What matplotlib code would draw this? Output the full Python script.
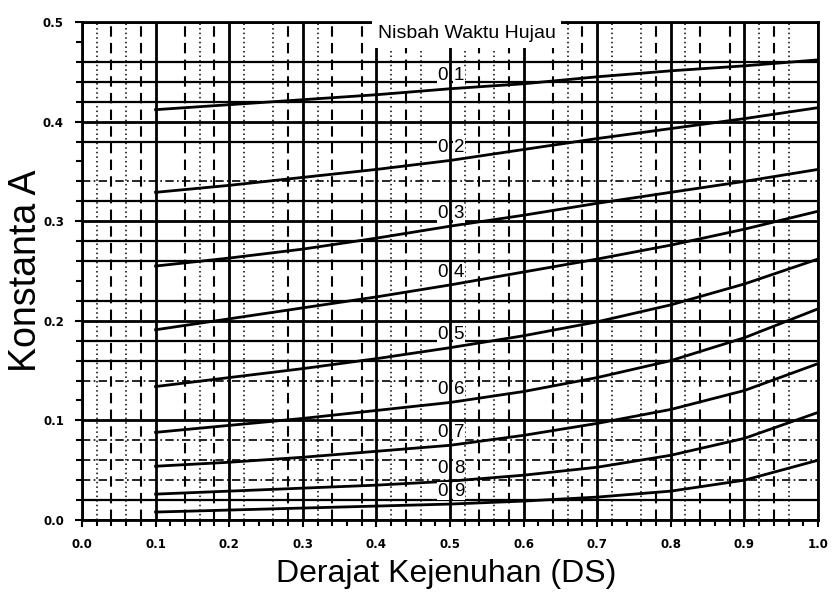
import matplotlib
matplotlib.use("Agg")
import matplotlib.pyplot as plt
from matplotlib.ticker import MultipleLocator
import numpy as np

plt.rcParams['font.family'] = ['Liberation Sans', 'DejaVu Sans']

# Derajat Kejenuhan (DS) where the curves are read
ds = [0.1, 0.2, 0.3, 0.4, 0.5, 0.6, 0.7, 0.8, 0.9, 1.0]

# Konstanta A for each Nisbah Waktu Hujau curve
a_01 = [0.412, 0.417, 0.422, 0.427, 0.433, 0.438, 0.445, 0.451, 0.456, 0.462]
a_02 = [0.329, 0.336, 0.344, 0.352, 0.361, 0.372, 0.383, 0.393, 0.403, 0.414]
a_03 = [0.255, 0.263, 0.272, 0.283, 0.295, 0.306, 0.318, 0.329, 0.340, 0.352]
a_04 = [0.191, 0.202, 0.213, 0.224, 0.236, 0.249, 0.262, 0.276, 0.292, 0.310]
a_05 = [0.134, 0.143, 0.152, 0.162, 0.173, 0.185, 0.199, 0.216, 0.237, 0.262]
a_06 = [0.088, 0.095, 0.102, 0.110, 0.118, 0.129, 0.143, 0.160, 0.183, 0.212]
a_07 = [0.054, 0.058, 0.063, 0.069, 0.075, 0.085, 0.097, 0.111, 0.130, 0.157]
a_08 = [0.026, 0.029, 0.032, 0.035, 0.039, 0.045, 0.053, 0.065, 0.082, 0.108]
a_09 = [0.008, 0.010, 0.012, 0.014, 0.016, 0.019, 0.023, 0.029, 0.040, 0.060]

curves = [a_01, a_02, a_03, a_04, a_05, a_06, a_07, a_08, a_09]
digits = ['1', '2', '3', '4', '5', '6', '7', '8', '9']

x_ticks = [0.0, 0.1, 0.2, 0.3, 0.4, 0.5, 0.6, 0.7, 0.8, 0.9, 1.0]
x_labels = ['0.0', '0.1', '0.2', '0.3', '0.4', '0.5', '0.6', '0.7', '0.8', '0.9', '1.0']
y_ticks = [0.0, 0.1, 0.2, 0.3, 0.4, 0.5]
y_labels = ['0.0', '0.1', '0.2', '0.3', '0.4', '0.5']

fig = plt.figure(figsize=(8.35, 5.92), dpi=100)
ax = fig.add_axes([0.0982, 0.1216, 0.8814, 0.8412])
ax.set_xlim(0, 1)
ax.set_ylim(0, 0.5)

ax.xaxis.set_major_locator(MultipleLocator(0.1))
ax.xaxis.set_minor_locator(MultipleLocator(0.02))
ax.yaxis.set_major_locator(MultipleLocator(0.1))
ax.yaxis.set_minor_locator(MultipleLocator(0.02))

# graph-paper grid
for i, x in enumerate(ax.xaxis.get_minorticklocs()):
    if i % 5 == 0:
        continue
    if i % 2 == 0:
        ax.axvline(x, color='black', lw=1.5, ls=(0, (5, 3)), zorder=1)
    else:
        ax.axvline(x, color='black', lw=1.1, ls=(0, (1, 2)), zorder=1)
for i, y in enumerate(ax.yaxis.get_minorticklocs()):
    if i % 5 == 0:
        continue
    if i in (2, 3, 4, 6, 14):
        ax.axhline(y, color='black', lw=1.2, ls=(0, (5, 2, 1, 2)), zorder=1)
    else:
        ax.axhline(y, color='black', lw=1.6, zorder=1)
ax.grid(which='major', color='black', lw=2.0, zorder=1)
ax.set_axisbelow(True)

for vals in curves:
    ax.plot(ds, vals, color='black', lw=2.0, zorder=3)

# curve labels on the DS = 0.5 line
for vals, d in zip(curves, digits):
    yl = vals[4] + 0.013
    ax.text(0.497, yl, '0', ha='right', va='center', fontsize=13.5, zorder=4,
            bbox=dict(facecolor='white', edgecolor='none', pad=0.5))
    ax.text(0.505, yl, d, ha='left', va='center', fontsize=13.5, zorder=4,
            bbox=dict(facecolor='white', edgecolor='none', pad=0.5))

ax.text(0.402, 0.488, 'Nisbah Waktu Hujau', ha='left', va='center', fontsize=14,
        zorder=4, bbox=dict(facecolor='white', edgecolor='none', pad=4))

ax.set_xticks(x_ticks)
ax.set_xticklabels(x_labels)
ax.set_yticks(y_ticks)
ax.set_yticklabels(y_labels)
ax.tick_params(which='both', direction='out', color='black', width=1.5,
               labelsize=8.5, pad=8)
ax.tick_params(which='major', length=5)
ax.tick_params(which='minor', length=4)
for lab in ax.get_xticklabels() + ax.get_yticklabels():
    lab.set_fontweight('bold')
    lab.set_family('DejaVu Sans')
for sp in ax.spines.values():
    sp.set_linewidth(2.0)

ax.set_xlabel('Derajat Kejenuhan (DS)', fontsize=23)
ax.xaxis.set_label_coords(0.495, -0.078)
ax.set_ylabel('Konstanta A', fontsize=27)
ax.yaxis.set_label_coords(-0.052, 0.5)

fig.savefig('out.png', dpi=100)
